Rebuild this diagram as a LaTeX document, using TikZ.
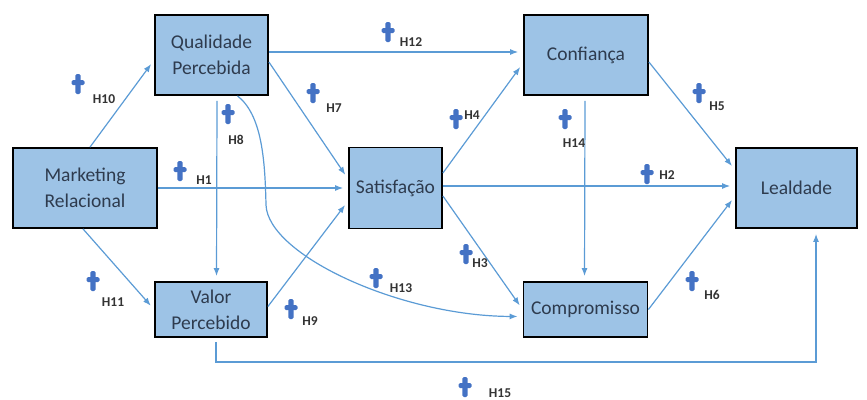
\documentclass[tikz,border=0pt]{standalone}
\usepackage{fontspec}
\setmainfont{Carlito}
\usetikzlibrary{arrows.meta}
\definecolor{boxblue}{HTML}{9DC3E6}
\definecolor{linkblue}{HTML}{5B9BD5}
\definecolor{plusblue}{HTML}{4472C4}
\definecolor{boxtext}{HTML}{2E3B4E}
\definecolor{labgray}{HTML}{333333}

\begin{document}
\begin{tikzpicture}[x=1pt, y=-1pt, >={Latex[length=8pt,width=6pt]},
    construct/.style={rectangle, draw=black, line width=1.8pt, fill=boxblue, text=boxtext, align=center, inner sep=2pt, font=\fontsize{19.5}{26}\selectfont},
    link/.style={->, linkblue, line width=1.2pt, shorten >=5pt},
    plusmark/.style={rectangle, minimum width=13pt, minimum height=20pt, inner sep=0pt,
        path picture={\fill[plusblue, rounded corners=1.5pt] ([xshift=-2.6pt]path picture bounding box.north) rectangle ([xshift=2.6pt]path picture bounding box.south);
                      \fill[plusblue, rounded corners=1.5pt] ([yshift=-6pt]path picture bounding box.north west) rectangle ([yshift=-11pt]path picture bounding box.north east);}},
    hyp/.style={font=\bfseries\fontsize{13.5}{14}\selectfont, text=labgray, inner sep=0pt}]
    \useasboundingbox (0,0) rectangle (867,399);

    % constructs
    \node[construct, minimum width=144pt, minimum height=80pt] (mkt) at (85,188) {Marketing\\Relacional};
    \node[construct, minimum width=113pt, minimum height=80pt] (qual) at (211.5,55) {Qualidade\\Percebida};
    \node[construct, minimum width=112pt, minimum height=55pt] (valor) at (211,309.5) {Valor\\Percebido};
    \node[construct, minimum width=93pt, minimum height=81pt] (sat) at (395.5,188) {Satisfação};
    \node[construct, minimum width=124pt, minimum height=80pt] (conf) at (586,55) {Confiança};
    \node[construct, minimum width=124pt, minimum height=55pt] (comp) at (585.5,309.5) {Compromisso};
    \node[construct, minimum width=121pt, minimum height=80pt] (leal) at (796.5,188) {Lealdade};
    \coordinate (c15) at (816,362);

    % hypotheses
    \draw[link] ([xshift=5pt]mkt.north) -- ([yshift=-5pt]qual.west);
    \draw[link] ([xshift=-2pt]mkt.south) -- (valor.west);
    \draw[link] (mkt.east) -- (sat.west);
    \draw[link] ([xshift=5.5pt, yshift=-5pt]qual.south) -- ([xshift=5.5pt]valor.north);
    \draw[link] ([yshift=-7pt]qual.east) -- ([yshift=9pt]sat.west);
    \draw[link] ([yshift=3pt]qual.east) -- ([yshift=3pt]conf.west);
    \draw[link] ([xshift=26pt]qual.south) .. controls (262,115) and (265,160) .. (266,205) .. controls (268,255) and (400,316) .. ([yshift=-7pt]comp.west);
    \draw[link] ([yshift=3pt]valor.east) -- ([yshift=-13pt]sat.west);
    \draw[link] ([yshift=15pt]sat.east) -- ([yshift=-8pt]conf.west);
    \draw[link] ([yshift=2pt]sat.east) -- ([yshift=2pt]leal.west);
    \draw[link] ([yshift=-8pt]sat.east) -- (comp.west);
    \draw[link] ([xshift=-1pt, yshift=-5pt]conf.south) -- ([xshift=-1pt]comp.north);
    \draw[link] ([yshift=-7pt]conf.east) -- ([yshift=18pt]leal.west);
    \draw[link] (comp.east) -- ([yshift=-8pt]leal.west);
    \draw[link] ([xshift=5pt, yshift=-4pt]valor.south) |- (c15) -- ([xshift=19.5pt]leal.south);

    % signs and labels
    \node[plusmark] (p10) at (78,84) {};
    \node[hyp] (h10) at (104,99) {H10};
    \node[plusmark] (p1) at (180,171) {};
    \node[hyp] (h1) at (204,180) {H1};
    \node[plusmark] (p8) at (228,114) {};
    \node[hyp] (h8) at (236,140) {H8};
    \node[plusmark] (p11) at (93,281) {};
    \node[hyp] (h11) at (113,302) {H11};
    \node[plusmark] (p12) at (388,32) {};
    \node[hyp] (h12) at (411,42) {H12};
    \node[plusmark] (p7) at (313,93) {};
    \node[hyp] (h7) at (334,108) {H7};
    \node[plusmark] (p4) at (456,119) {};
    \node[hyp] (h4) at (472,115) {H4};
    \node[plusmark] (p14) at (565,119) {};
    \node[hyp] (h14) at (574,143) {H14};
    \node[plusmark] (p5) at (699,93) {};
    \node[hyp] (h5) at (717,106) {H5};
    \node[plusmark] (p2) at (647,174) {};
    \node[hyp] (h2) at (667,175) {H2};
    \node[plusmark] (p9) at (291,309) {};
    \node[hyp] (h9) at (310,321) {H9};
    \node[plusmark] (p13) at (376,278) {};
    \node[hyp] (h13) at (401,288) {H13};
    \node[plusmark] (p3) at (466,254) {};
    \node[hyp] (h3) at (480,263) {H3};
    \node[plusmark] (p6) at (692,281) {};
    \node[hyp] (h6) at (712,295) {H6};
    \node[plusmark] (p15) at (465,387) {};
    \node[hyp] (h15) at (500,393) {H15};
\end{tikzpicture}
\end{document}
